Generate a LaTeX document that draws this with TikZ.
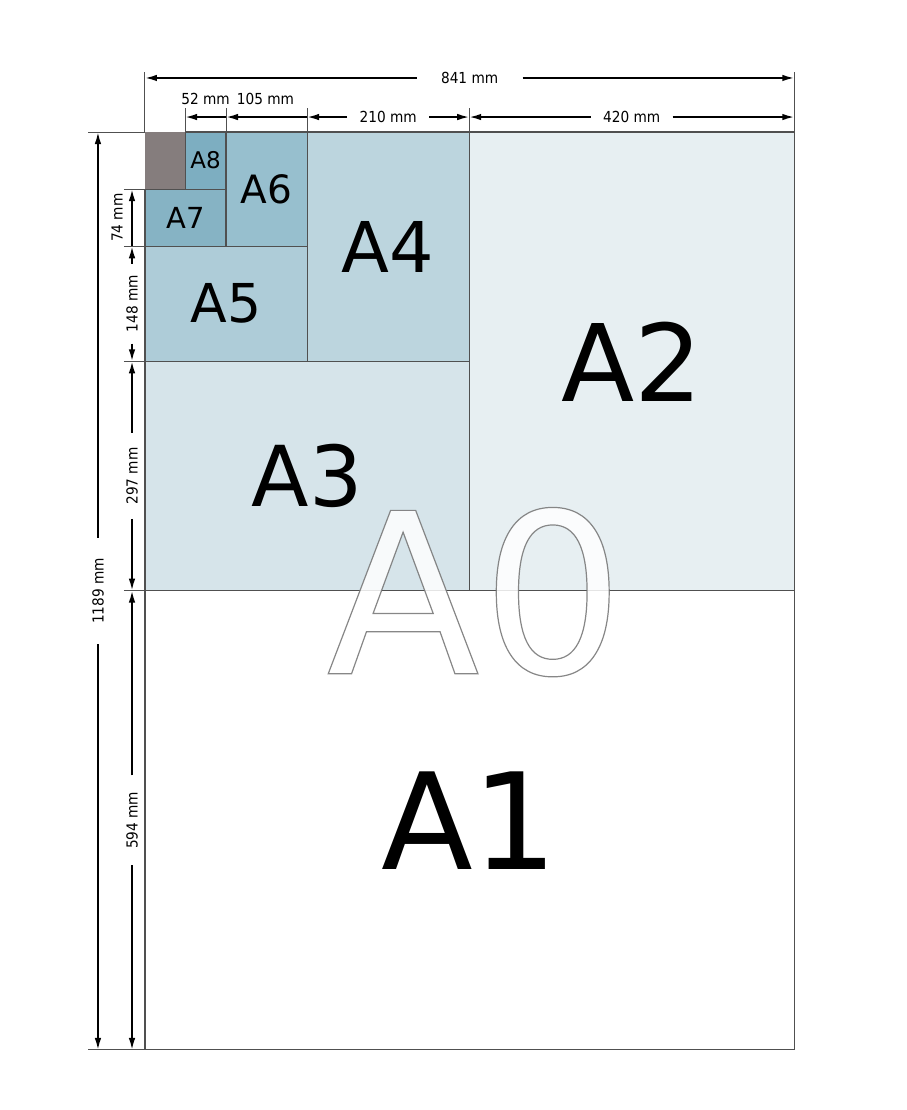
\documentclass[tikz,border=0pt]{standalone}
\usepackage{fontspec}
\setmainfont{DejaVu Sans}
\newfontfamily\dimfont[FakeStretch=0.9]{DejaVu Sans}
\usetikzlibrary{arrows.meta}
\definecolor{paperA2}{HTML}{E7EFF2}
\definecolor{paperA3}{HTML}{D6E4EA}
\definecolor{paperA4}{HTML}{BCD5DE}
\definecolor{paperA5}{HTML}{AECCD8}
\definecolor{paperA6}{HTML}{97BFCE}
\definecolor{paperA7}{HTML}{86B3C4}
\definecolor{paperA8}{HTML}{7DAEC1}
\definecolor{restgray}{HTML}{857D7D}
\definecolor{edgegray}{HTML}{505050}
\newcommand\outlinetext[1]{\special{pdf:literal direct 2 Tr 0.6 w 0.45 0.45 0.45 RG}#1\special{pdf:literal direct 0 Tr}}

\begin{document}
\begin{tikzpicture}[x=0.386pt,y=-0.386pt,
    paperbox/.style={draw=edgegray,line width=0.55pt},
    sizelabel/.style={inner sep=0pt,text=black},
    extline/.style={draw=edgegray,line width=0.5pt},
    dimline/.style={-{Latex[length=6pt,width=3.3pt]},line width=0.9pt},
    dimlabel/.style={font=\dimfont\fontsize{7.6}{9}\selectfont,inner ysep=0pt,inner xsep=#1},
    dimlabel/.default=0pt]
    \fill[white] (-187.8,-171) rectangle (987,1266.8);
    \useasboundingbox (-187.8,-171) rectangle (987,1266.8);
    % paper sizes, largest first
    \foreach \nm/\xa/\ya/\xb/\yb/\fc/\fs in {A1/0/594/841/1189/white/67,A2/420/0/841/594/paperA2/53.5,
        A3/0/297/420/594/paperA3/42,A4/210/0/420/297/paperA4/35,A5/0/148/210/297/paperA5/26.8,
        A6/105/0/210/148/paperA6/19.5,A7/0/74/105/148/paperA7/14.5,A8/52/0/105/74/paperA8/11.5}
    {
        \draw[paperbox,fill=\fc] (\xa,\ya) rectangle (\xb,\yb);
        \node[sizelabel,font=\fontsize{\fs}{\fs}\selectfont] (\nm) at ({(\xa+\xb)/2},{(\ya+\yb)/2}) {\nm};
    }
    \fill[restgray] (0,0) rectangle (52,74);
    \node[sizelabel,text=white,text opacity=0.85] (A0) at (428,596)
        {\fontsize{112}{112}\selectfont\outlinetext{A\kern1pt 0}};
    % extension lines
    \foreach \x in {0,841}
        \draw[extline] (\x,-77.7) -- (\x,0);
    \foreach \x in {52,105,210,420}
        \draw[extline] (\x,-31) -- (\x,0);
    \foreach \y in {0,1189}
        \draw[extline] (-73.6,\y) -- (0,\y);
    \foreach \y in {74,148,297,594}
        \draw[extline] (-27.2,\y) -- (0,\y);
    % widths
    \foreach \x in {0,841}
        \coordinate (w\x) at (\x,-70);
    \foreach \x in {52,105,210,420,841}
        \coordinate (t\x) at (\x,-19.4);
    \node[dimlabel=12pt] (lab841) at (420.5,-70) {841 mm};
    \draw[dimline] (lab841) -- (w0);
    \draw[dimline] (lab841) -- (w841);
    \node[dimlabel] (lab52) at (78.5,-42.7) {52 mm};
    \node[dimlabel] (lab105) at (156,-42.7) {105 mm};
    \draw[dimline,{Latex[length=6pt,width=3.3pt]}-] (t52) -- (t105);
    \draw[dimline,{Latex[length=6pt,width=3.3pt]}-] (t105) -- (t210);
    \node[dimlabel=6pt] (lab210) at (315,-19.4) {210 mm};
    \draw[dimline] (lab210) -- (t210);
    \draw[dimline] (lab210) -- (t420);
    \node[dimlabel=6pt] (lab420) at (630.5,-19.4) {420 mm};
    \draw[dimline] (lab420) -- (t420);
    \draw[dimline] (lab420) -- (t841);
    % heights
    \foreach \y in {0,1189}
        \coordinate (h\y) at (-60.9,\y);
    \foreach \y in {74,148,297,594,1189}
        \coordinate (s\y) at (-16.8,\y);
    \node[dimlabel=10pt,rotate=90] (lab1189) at (-60.9,594.5) {1189 mm};
    \draw[dimline] (lab1189) -- (h0);
    \draw[dimline] (lab1189) -- (h1189);
    \node[dimlabel,rotate=90] (lab74) at (-36.3,111) {74 mm};
    \draw[dimline,{Latex[length=6pt,width=3.3pt]}-] (s74) -- (s148);
    \foreach \ya/\yb/\pad/\txt in {148/297/5.5pt/148 mm,297/594/7pt/297 mm,594/1189/8pt/594 mm}
    {
        \node[dimlabel=\pad,rotate=90] (lab\ya) at (-16.8,{(\ya+\yb)/2}) {\txt};
        \draw[dimline] (lab\ya) -- (s\ya);
        \draw[dimline] (lab\ya) -- (s\yb);
    }
\end{tikzpicture}
\end{document}
